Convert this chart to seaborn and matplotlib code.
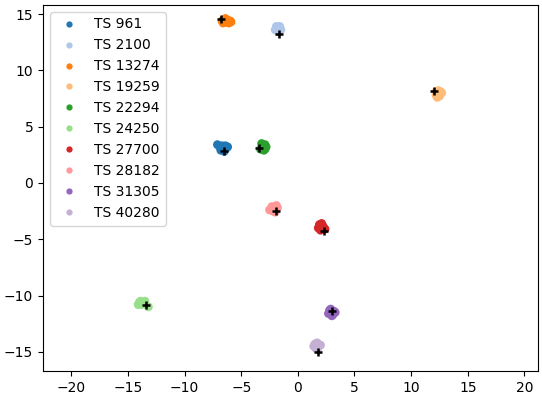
import matplotlib
matplotlib.use("Agg")
import matplotlib.pyplot as plt
import seaborn as sns
import pandas as pd

labels = ["TS 961", "TS 2100", "TS 13274", "TS 19259", "TS 22294",
          "TS 24250", "TS 27700", "TS 28182", "TS 31305", "TS 40280"]

x_961 = [-6.6, -6.4, -6.8, -6.5, -6.3, -6.7, -7.1, -6.9, -6.5, -6.2]
y_961 = [3.1, 3.3, 2.9, 2.8, 3.1, 3.3, 3.4, 3.2, 3.0, 3.2]
x_2100 = [-1.8, -1.6, -2.0, -1.7, -1.5, -1.9, -1.8, -1.6]
y_2100 = [13.7, 13.9, 13.6, 13.4, 13.6, 13.9, 13.5, 13.8]
x_13274 = [-6.3, -6.0, -6.6, -6.4, -6.1, -6.7, -5.9, -6.3]
y_13274 = [14.5, 14.4, 14.2, 14.6, 14.2, 14.4, 14.3, 14.3]
x_19259 = [12.4, 12.6, 12.2, 12.3, 12.5, 12.7, 12.4, 12.2]
y_19259 = [7.9, 8.1, 7.8, 7.6, 7.7, 8.0, 8.2, 8.1]
x_22294 = [-3.1, -2.9, -3.3, -3.0, -2.8, -3.2, -3.1, -2.9]
y_22294 = [3.2, 3.4, 3.0, 2.9, 3.2, 3.5, 3.3, 3.0]
x_24250 = [-13.7, -14.0, -13.5, -13.8, -14.1, -13.6, -13.2, -13.9]
y_24250 = [-10.7, -10.6, -10.5, -10.8, -10.8, -10.6, -11.0, -10.5]
x_27700 = [2.1, 1.9, 2.3, 2.0, 2.2, 1.8, 2.4, 2.1]
y_27700 = [-3.9, -3.7, -4.0, -4.2, -3.8, -4.0, -4.1, -3.6]
x_28182 = [-2.1, -2.3, -1.9, -2.4, -2.0, -2.2, -1.8, -2.5]
y_28182 = [-2.3, -2.1, -2.0, -2.4, -2.6, -2.5, -2.2, -2.4]
x_31305 = [3.0, 2.8, 3.2, 2.7, 3.1, 2.9, 3.3, 3.0]
y_31305 = [-11.5, -11.3, -11.4, -11.6, -11.7, -11.2, -11.5, -11.8]
x_40280 = [1.7, 1.5, 1.9, 1.6, 1.8, 1.4, 1.7, 2.0]
y_40280 = [-14.5, -14.3, -14.4, -14.7, -14.6, -14.5, -14.2, -14.4]

cx = [-6.5, -1.7, -6.8, 12.0, -3.4, -13.4, 2.3, -1.9, 3.0, 1.8]
cy = [2.85, 13.2, 14.6, 8.2, 3.1, -10.8, -4.3, -2.5, -11.4, -15.0]

xs = [x_961, x_2100, x_13274, x_19259, x_22294, x_24250, x_27700, x_28182, x_31305, x_40280]
ys = [y_961, y_2100, y_13274, y_19259, y_22294, y_24250, y_27700, y_28182, y_31305, y_40280]

rows = []
for lab, xv, yv in zip(labels, xs, ys):
    for a, b in zip(xv, yv):
        rows.append((lab, a, b))
df = pd.DataFrame(rows, columns=["ts", "x", "y"])

palette = sns.color_palette("tab20", 10)

fig = plt.figure(figsize=(5.42, 3.98), dpi=100)
ax = fig.add_axes([43 / 542, 1 - 371 / 398, (538 - 43) / 542, (371 - 5) / 398])

sns.scatterplot(data=df, x="x", y="y", hue="ts", hue_order=labels,
                palette=palette, s=40, linewidth=0, ax=ax)
ax.scatter(cx, cy, marker="+", color="black", s=30, linewidths=1.8, zorder=5)

ax.set_xlim(-22.5, 21.2)
ax.set_ylim(-16.7, 15.8)
ax.set_xticks([-20, -15, -10, -5, 0, 5, 10, 15, 20])
ax.set_yticks([-15, -10, -5, 0, 5, 10, 15])
ax.set_xlabel("")
ax.set_ylabel("")

handles, labs = ax.get_legend_handles_labels()
for h in handles:
    if hasattr(h, "set_markersize"):
        h.set_markersize(4.5)
    if hasattr(h, "set_sizes"):
        h.set_sizes([18])
ax.legend(handles, labs, loc="upper left", fontsize=10)

fig.savefig("out.png", dpi=100)
